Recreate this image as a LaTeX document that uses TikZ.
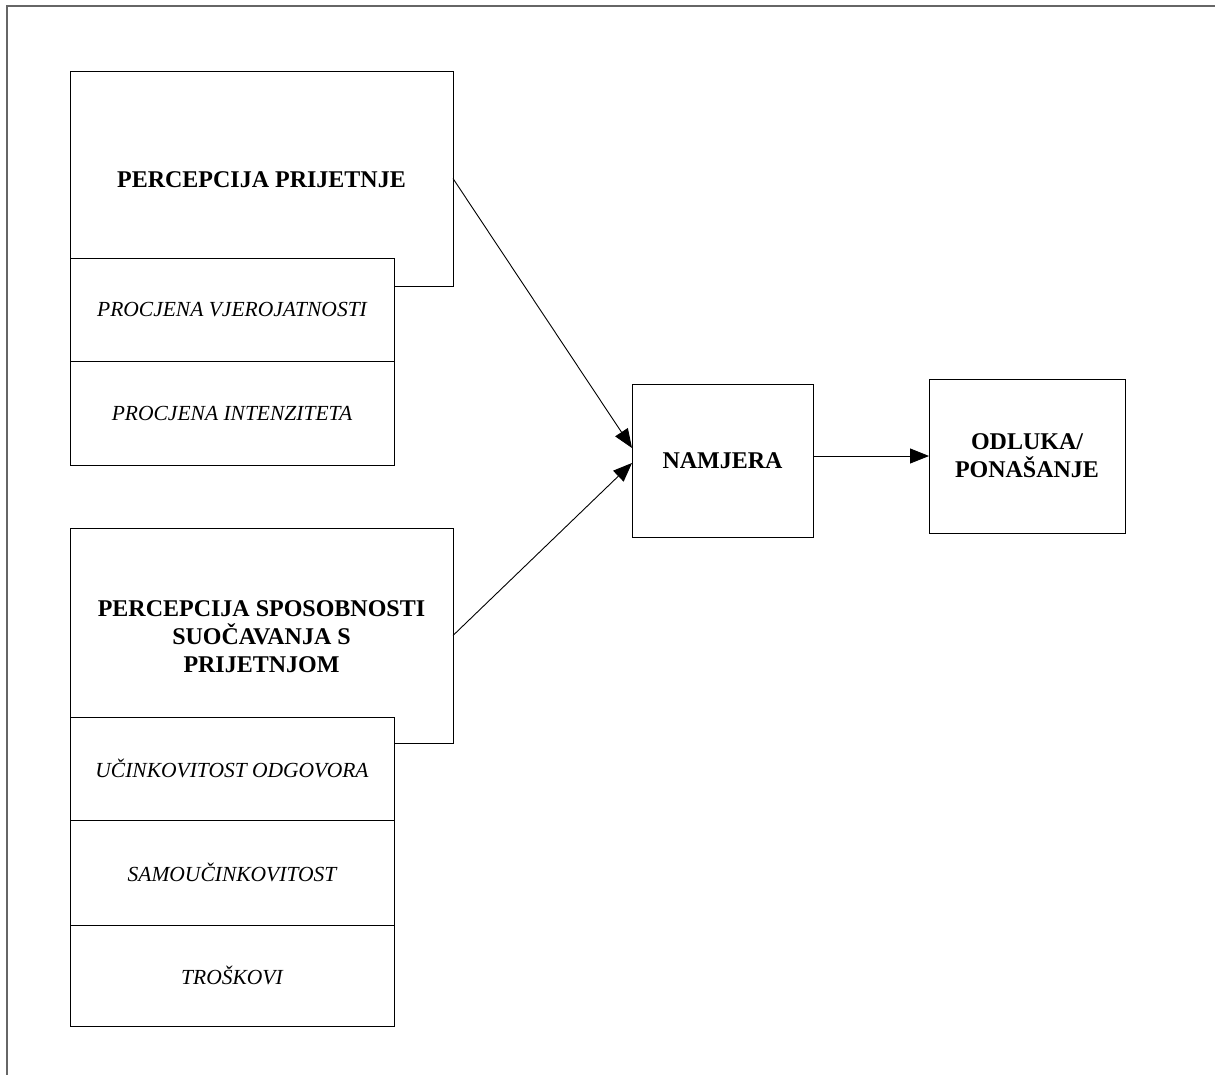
\documentclass[tikz,border=0pt]{standalone}
\usepackage{fontspec}
\setmainfont{Liberation Serif}
\usetikzlibrary{arrows.meta,calc}
\begin{document}
\begin{tikzpicture}[x=1pt,y=-1pt,
  box/.style={draw=black,line width=0.9pt,inner sep=0pt,outer sep=0pt,fill=white,align=center},
  bigtxt/.style={font=\fontsize{24}{28}\selectfont\bfseries},
  subtxt/.style={font=\fontsize{21.5}{25}\selectfont\itshape},
  conn/.style={draw=black,line width=0.9pt,-{Triangle[length=19pt,width=15pt]}}]
\useasboundingbox (0,0) rectangle (1215,1075);
% frame
\draw[line width=1.2pt,black!60] (1215,6) -- (7,6) -- (7,1075);
% group 1
\node[box,minimum width=383pt,minimum height=215pt] (p1) at (261.5,178.5) {};
\node[bigtxt] (p1t) at (261.5,180) {PERCEPCIJA PRIJETNJE};
\node[box,subtxt,minimum width=324pt,minimum height=103pt] (s1) at (232,309.5) {PROCJENA VJEROJATNOSTI};
\node[box,subtxt,minimum width=324pt,minimum height=104pt] (s2) at (232,413) {PROCJENA INTENZITETA};
% group 2
\node[box,minimum width=383pt,minimum height=215pt] (p2) at (261.5,635.5) {};
\node[bigtxt,align=center] (p2t) at (261.5,637) {PERCEPCIJA SPOSOBNOSTI\\SUOČAVANJA S\\PRIJETNJOM};
\node[box,subtxt,minimum width=324pt,minimum height=103pt] (s3) at (232,768.5) {UČINKOVITOST ODGOVORA};
\node[box,subtxt,minimum width=324pt,minimum height=105pt] (s4) at (232,872.5) {SAMOUČINKOVITOST};
\node[box,subtxt,minimum width=324pt,minimum height=101pt] (s5) at (232,975.5) {TROŠKOVI};
% right side
\node[box,bigtxt,minimum width=181pt,minimum height=153pt] (nam) at (722.5,460.5) {NAMJERA};
\node[box,bigtxt,minimum width=196pt,minimum height=154pt] (odl) at (1027,456) {ODLUKA/\\PONAŠANJE};
% connectors
\draw[conn] (p1.east) -- ($(nam.west)+(0,-12.5)$);
\draw[conn] (p2.east) -- ($(nam.west)+(0,2.5)$);
\draw[conn] (nam.east |- odl.west) -- (odl.west);
\end{tikzpicture}
\end{document}
